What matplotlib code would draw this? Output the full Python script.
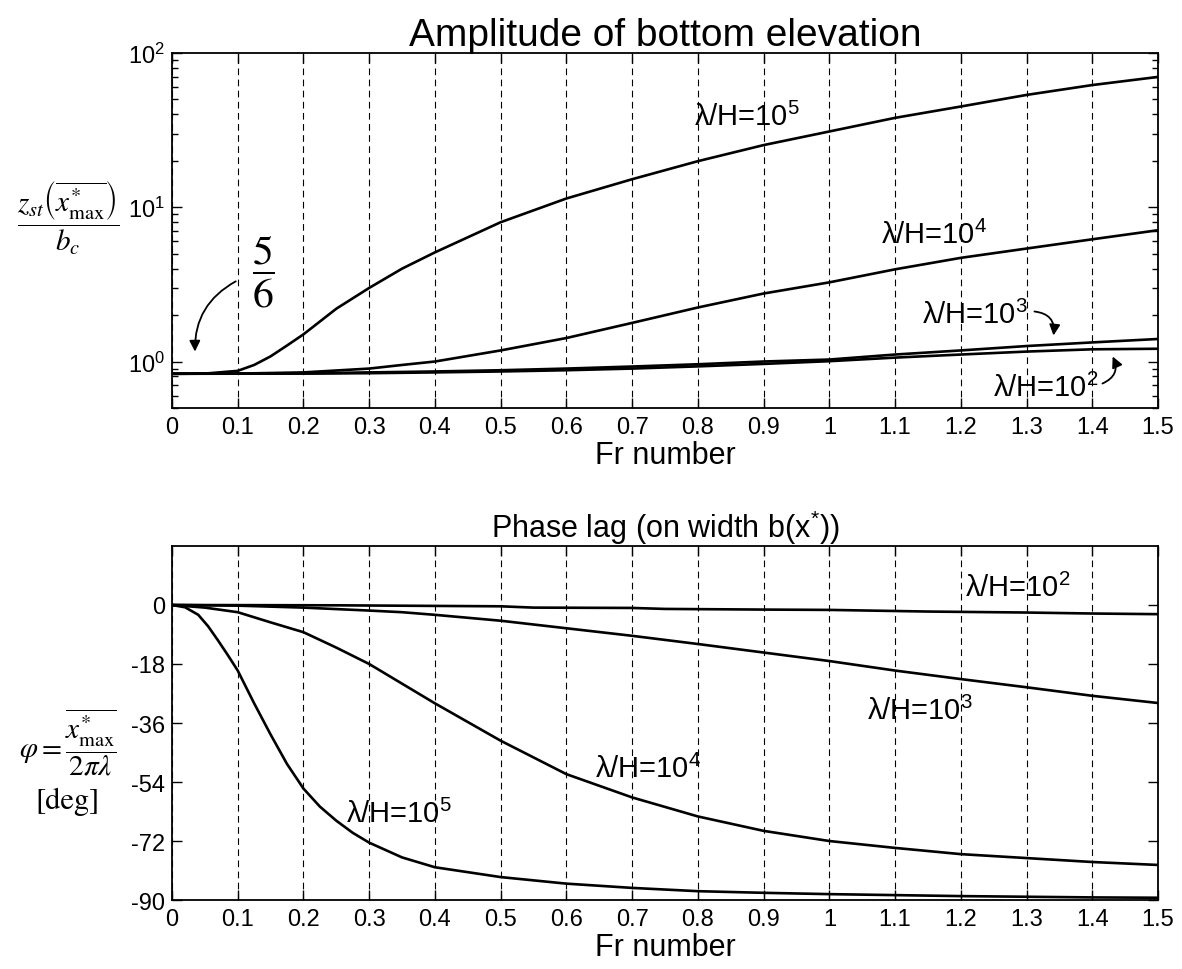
import matplotlib
matplotlib.use("Agg")
import matplotlib.pyplot as plt
from matplotlib.ticker import FixedLocator, FuncFormatter, NullFormatter, LogLocator

plt.rcParams['font.family'] = ['Liberation Sans', 'DejaVu Sans']
plt.rcParams['mathtext.fontset'] = 'custom'
plt.rcParams['mathtext.rm'] = 'Liberation Sans'
plt.rcParams['mathtext.it'] = 'Liberation Sans:italic'
plt.rcParams['mathtext.bf'] = 'Liberation Sans:bold'
plt.rcParams['axes.unicode_minus'] = False

# ---- amplitude (top panel) ----
fr_amp_1e5 = [0, 0.05, 0.1, 0.125, 0.15, 0.175, 0.2, 0.25, 0.3, 0.35, 0.4, 0.5, 0.6, 0.7, 0.8, 0.9, 1.0, 1.1, 1.2, 1.3, 1.4, 1.5]
amp_1e5 = [0.833, 0.835, 0.87, 0.95, 1.08, 1.27, 1.5, 2.2, 3.0, 4.0, 5.1, 8.0, 11.4, 15.2, 19.9, 25.3, 31, 38, 45, 53.5, 62, 70]

fr_amp_1e4 = [0, 0.1, 0.2, 0.3, 0.35, 0.4, 0.5, 0.6, 0.7, 0.8, 0.9, 1.0, 1.1, 1.2, 1.3, 1.4, 1.5]
amp_1e4 = [0.833, 0.835, 0.85, 0.9, 0.95, 1.0, 1.18, 1.42, 1.78, 2.24, 2.76, 3.26, 3.96, 4.7, 5.4, 6.2, 7.1]

fr_amp_low = [0, 0.2, 0.3, 0.4, 0.5, 0.6, 0.7, 0.8, 0.9, 1.0, 1.1, 1.2, 1.3, 1.4, 1.5]
amp_1e3 = [0.833, 0.838, 0.85, 0.862, 0.878, 0.9, 0.928, 0.96, 1.0, 1.03, 1.11, 1.18, 1.26, 1.33, 1.40]
amp_1e2 = [0.833, 0.835, 0.84, 0.85, 0.862, 0.878, 0.9, 0.93, 0.965, 1.005, 1.06, 1.11, 1.16, 1.2, 1.21]

# ---- phase lag (bottom panel) ----
fr_ph_1e5 = [0, 0.02, 0.04, 0.055, 0.07, 0.085, 0.1, 0.125, 0.15, 0.175, 0.2, 0.225, 0.25, 0.275, 0.3, 0.35, 0.4, 0.5,
             0.6, 0.7, 0.8, 0.9, 1.0, 1.1, 1.2, 1.3, 1.4, 1.5]
ph_1e5 = [0, -0.7, -3.0, -6.5, -10.8, -15.3, -20, -30, -39.5, -48.5, -56, -61.5, -65.8, -69.5, -72.5, -77, -80, -83,
          -85, -86.3, -87.3, -87.8, -88.2, -88.5, -88.8, -89, -89.2, -89.3]

fr_ph_1e4 = [0, 0.05, 0.1, 0.15, 0.2, 0.25, 0.3, 0.35, 0.4, 0.5, 0.6, 0.7, 0.8, 0.9, 1.0, 1.1, 1.2, 1.3, 1.4, 1.5]
ph_1e4 = [0, -0.8, -2.2, -5.3, -8.3, -13, -18, -24, -30, -41.4, -51.6, -58.7, -64.5, -68.9, -72, -74.1, -76, -77.2, -78.4, -79.3]

fr_ph_1e3 = [0, 0.1, 0.2, 0.3, 0.35, 0.4, 0.5, 0.6, 0.7, 0.8, 0.9, 1.0, 1.1, 1.2, 1.3, 1.4, 1.5]
ph_1e3 = [0, -0.2, -0.8, -1.7, -2.2, -3.0, -4.8, -7.1, -9.4, -11.9, -14.5, -17.1, -20, -22.6, -25.1, -27.7, -29.9]

fr_ph_1e2 = [0, 0.25, 0.5, 0.55, 0.7, 0.75, 0.9, 1.0, 1.15, 1.3, 1.4, 1.5]
ph_1e2 = [0, -0.1, -0.4, -0.8, -0.9, -1.2, -1.4, -1.5, -2.0, -2.3, -2.6, -2.8]

fr_ticks = [0, 0.1, 0.2, 0.3, 0.4, 0.5, 0.6, 0.7, 0.8, 0.9, 1.0, 1.1, 1.2, 1.3, 1.4, 1.5]
phase_ticks = [-90, -72, -54, -36, -18, 0]

fig = plt.figure(figsize=(11.82, 9.70), dpi=100)
ax1 = fig.add_axes([0.1455, 0.5784, 0.8342, 0.3659])
ax2 = fig.add_axes([0.1455, 0.0711, 0.8342, 0.3650])

lw = 1.9


def style_axis(ax):
    ax.set_xlim(0, 1.5)
    ax.xaxis.set_major_locator(FixedLocator(fr_ticks))
    ax.xaxis.set_major_formatter(FuncFormatter(lambda v, p: f"{v:g}"))
    ax.grid(axis='x', which='major', color='black', linestyle=(0, (6, 4)), linewidth=0.8)
    ax.tick_params(which='both', direction='in', top=True, right=True, labelsize=17, width=1.0)
    ax.tick_params(which='major', length=7)
    ax.tick_params(which='minor', length=4)
    ax.tick_params(axis='x', pad=6)
    ax.tick_params(axis='y', pad=5)
    for s in ax.spines.values():
        s.set_linewidth(1.3)
    ax.set_xlabel('Fr number', fontsize=22, labelpad=1)


# top panel
ax1.plot(fr_amp_1e5, amp_1e5, 'k-', lw=lw)
ax1.plot(fr_amp_1e4, amp_1e4, 'k-', lw=lw)
ax1.plot(fr_amp_low, amp_1e3, 'k-', lw=lw)
ax1.plot(fr_amp_low, amp_1e2, 'k-', lw=lw)
ax1.set_yscale('log')
ax1.set_ylim(0.5, 100)
ax1.yaxis.set_minor_locator(LogLocator(base=10, subs=range(2, 10)))
ax1.yaxis.set_minor_formatter(NullFormatter())
style_axis(ax1)
ax1.set_title('Amplitude of bottom elevation', fontsize=28, pad=6)

lab = dict(fontsize=21, ha='center', va='center')
ax1.text(0.875, 39.0, r'λ/H=$10^{5}$', **lab)
ax1.text(1.160, 6.68, r'λ/H=$10^{4}$', **lab)
ax1.text(1.222, 2.02, r'λ/H=$10^{3}$', **lab)
ax1.text(1.330, 0.678, r'λ/H=$10^{2}$', **lab)
ax1.text(0.1385, 3.84, r'$\dfrac{5}{6}$', fontsize=30, ha='center', va='center', math_fontfamily='stix')

arrow = dict(arrowstyle='-|>', color='black', lw=1.3, mutation_scale=16, shrinkA=0, shrinkB=0)
ax1.annotate('', xy=(0.035, 1.16), xytext=(0.097, 3.31),
             arrowprops=dict(connectionstyle='arc3,rad=0.3', **arrow))
ax1.annotate('', xy=(1.341, 1.475), xytext=(1.312, 2.11),
             arrowprops=dict(connectionstyle='arc3,rad=-0.5', **arrow))
ax1.annotate('', xy=(1.431, 1.078), xytext=(1.4155, 0.72),
             arrowprops=dict(connectionstyle='arc3,rad=0.5', **arrow))

fig.text(68 / 1182, 1 - 218 / 970,
         r'$\dfrac{z_{st}\left(\overline{x^{*}_{\max}}\right)}{b_c}$',
         fontsize=21, ha='center', va='center', math_fontfamily='stix')

# bottom panel
ax2.plot(fr_ph_1e5, ph_1e5, 'k-', lw=lw)
ax2.plot(fr_ph_1e4, ph_1e4, 'k-', lw=lw)
ax2.plot(fr_ph_1e3, ph_1e3, 'k-', lw=lw)
ax2.plot(fr_ph_1e2, ph_1e2, 'k-', lw=lw)
ax2.set_ylim(-90, 18)
ax2.yaxis.set_major_locator(FixedLocator(phase_ticks))
ax2.yaxis.set_major_formatter(FuncFormatter(lambda v, p: f"{v:g}"))
style_axis(ax2)
ax2.set_title(r'Phase lag (on width b(x$^{*}$))', fontsize=22, pad=4)

ax2.text(1.286, 5.5, r'λ/H=$10^{2}$', **lab)
ax2.text(1.138, -32.3, r'λ/H=$10^{3}$', **lab)
ax2.text(0.7245, -49.7, r'λ/H=$10^{4}$', **lab)
ax2.text(0.3455, -63.5, r'λ/H=$10^{5}$', **lab)

fig.text(68 / 1182, 1 - 742 / 970,
         r'$\varphi = \dfrac{\overline{x^{*}_{\max}}}{2\pi\lambda}$',
         fontsize=21, ha='center', va='center', math_fontfamily='stix')
fig.text(68 / 1182, 1 - 802 / 970, '[deg]', fontsize=22, ha='center', va='center',
         family='STIXGeneral')

fig.savefig('out.png', dpi=100)
